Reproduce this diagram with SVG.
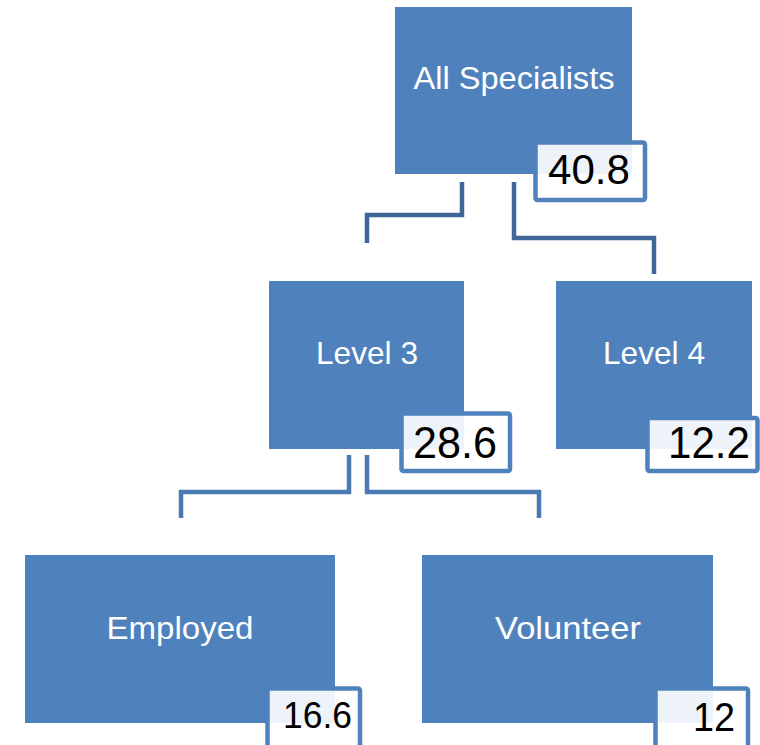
<svg xmlns="http://www.w3.org/2000/svg" width="760" height="745" viewBox="0 0 760 745">
<style>
.box{fill:#4F81BD;}
.val{fill:#FFFFFF;fill-opacity:0.9;stroke:#4F81BD;stroke-width:4.5;}
.lbl{font-family:"Liberation Sans",Arial,sans-serif;font-size:32px;fill:#FFFFFF;text-anchor:middle;}
.num{font-family:"Liberation Sans",Arial,sans-serif;fill:#000000;}
.c1{fill:none;stroke:#3F6898;stroke-width:4.5;}
.c2{fill:none;stroke:#4A7AB4;stroke-width:4.5;}
</style>
<rect width="760" height="745" fill="#FFFFFF"/>
<g id="connectors">
<path class="c1" d="M462 182 V215 H367 V243"/>
<path class="c1" d="M514 182 V238 H654 V274"/>
<path class="c2" d="M349 455 V492 H181 V518"/>
<path class="c2" d="M367 455 V492 H539 V518"/>
</g>
<g id="all-specialists">
<rect class="box" x="395" y="7" width="237" height="167"/>
<text class="lbl" x="514" y="89" textLength="201" lengthAdjust="spacingAndGlyphs">All Specialists</text>
<rect class="val" x="535.5" y="142.5" width="109.5" height="57.5" rx="2"/>
<text class="num" x="548" y="184" font-size="42" textLength="82" lengthAdjust="spacingAndGlyphs">40.8</text>
</g>
<g id="level3">
<rect class="box" x="269" y="281" width="195" height="168"/>
<text class="lbl" x="367" y="364" textLength="102" lengthAdjust="spacingAndGlyphs">Level 3</text>
<rect class="val" x="401.5" y="413.5" width="108.5" height="57.5" rx="2"/>
<text class="num" x="413" y="458" font-size="44" textLength="84" lengthAdjust="spacingAndGlyphs">28.6</text>
</g>
<g id="level4">
<rect class="box" x="556" y="281" width="196" height="168"/>
<text class="lbl" x="654" y="364" textLength="102" lengthAdjust="spacingAndGlyphs">Level 4</text>
<rect class="val" x="647.5" y="418" width="110" height="53" rx="2"/>
<text class="num" x="668" y="458" font-size="44" textLength="82" lengthAdjust="spacingAndGlyphs">12.2</text>
</g>
<g id="employed">
<rect class="box" x="25" y="555" width="310" height="168"/>
<text class="lbl" x="180" y="639" textLength="147" lengthAdjust="spacingAndGlyphs">Employed</text>
<rect class="val" x="267.5" y="688.5" width="92.5" height="60" rx="2"/>
<text class="num" x="283" y="728" font-size="36" textLength="69" lengthAdjust="spacingAndGlyphs">16.6</text>
</g>
<g id="volunteer">
<rect class="box" x="422" y="555" width="291" height="168"/>
<text class="lbl" x="568" y="639" textLength="146" lengthAdjust="spacingAndGlyphs">Volunteer</text>
<rect class="val" x="655.5" y="688.5" width="92.5" height="60" rx="2"/>
<text class="num" x="693" y="731" font-size="40" textLength="42" lengthAdjust="spacingAndGlyphs">12</text>
</g>
</svg>
